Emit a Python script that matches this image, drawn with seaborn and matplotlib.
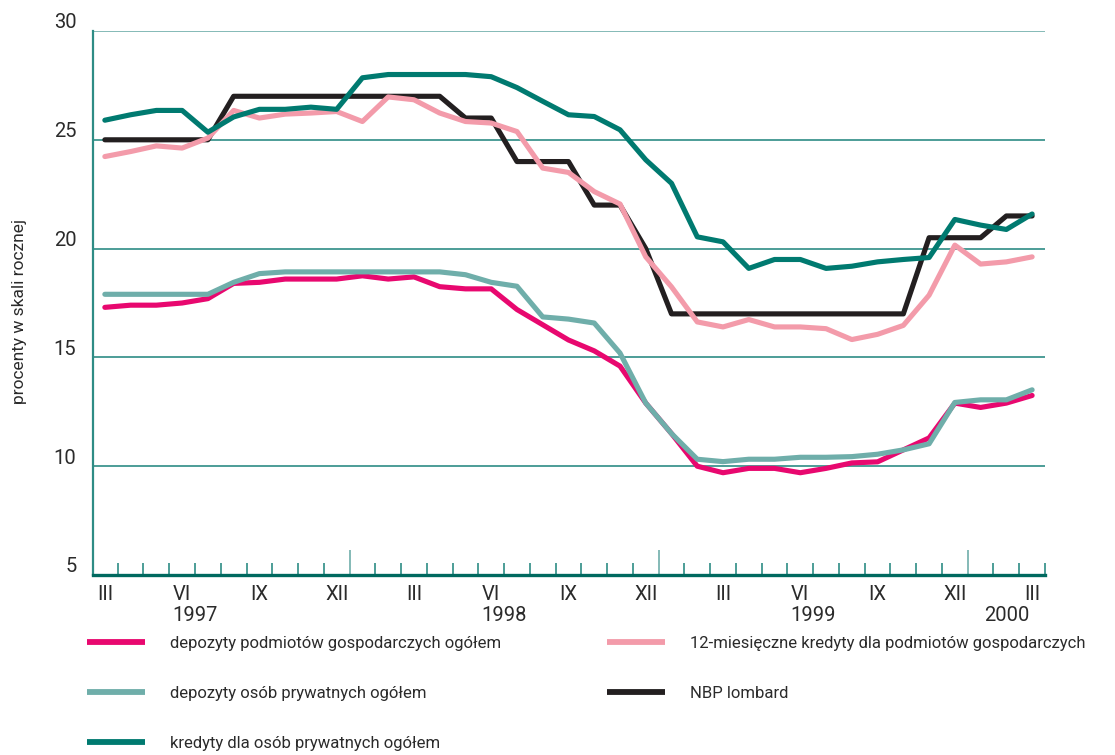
import numpy as np
import pandas as pd
import matplotlib
matplotlib.use("Agg")
import matplotlib.pyplot as plt
import matplotlib.transforms as mtransforms
from matplotlib.lines import Line2D
import seaborn as sns

# monthly data, III 1997 - III 2000
dep_firmy = [17.3, 17.4, 17.4, 17.5, 17.7, 18.4, 18.45, 18.6, 18.6, 18.6, 18.75, 18.6, 18.7,
             18.25, 18.15, 18.15, 17.2, 16.5, 15.8, 15.3, 14.6, 12.9, 11.5, 10.0, 9.7, 9.9,
             9.9, 9.7, 9.9, 10.15, 10.2, 10.75, 11.3, 12.9, 12.7, 12.9, 13.25]
dep_prywatne = [17.9, 17.9, 17.9, 17.9, 17.9, 18.45, 18.85, 18.93, 18.93, 18.93, 18.93, 18.93,
                18.93, 18.93, 18.8, 18.45, 18.27, 16.86, 16.76, 16.58, 15.2, 12.9, 11.5, 10.32,
                10.21, 10.32, 10.32, 10.41, 10.41, 10.44, 10.55, 10.75, 11.03, 12.93, 13.05,
                13.05, 13.51]
kredyty_prywatne = [25.9, 26.15, 26.35, 26.35, 25.35, 26.05, 26.4, 26.4, 26.5, 26.4, 27.85, 28.0,
                    28.0, 28.0, 28.0, 27.9, 27.4, 26.77, 26.15, 26.07, 25.46, 24.08, 23.0, 20.54,
                    20.31, 19.09, 19.5, 19.5, 19.09, 19.19, 19.39, 19.5, 19.59, 21.34, 21.08,
                    20.88, 21.59]
kredyty_12m = [24.23, 24.46, 24.72, 24.62, 25.08, 26.35, 26.0, 26.18, 26.23, 26.3, 25.84, 26.97,
               26.84, 26.23, 25.84, 25.77, 25.38, 23.7, 23.5, 22.62, 22.05, 19.62, 18.24, 16.63,
               16.4, 16.74, 16.4, 16.4, 16.32, 15.82, 16.06, 16.47, 17.86, 20.16, 19.29, 19.39,
               19.62]
lombard = [25, 25, 25, 25, 25, 27, 27, 27, 27, 27, 27, 27, 27, 27, 26, 26, 24, 24, 24, 22, 22,
           20, 17, 17, 17, 17, 17, 17, 17, 17, 17, 17, 20.5, 20.5, 20.5, 21.5, 21.5]

quarter_labels = ['III', 'VI', 'IX', 'XII', 'III', 'VI', 'IX', 'XII',
                  'III', 'VI', 'IX', 'XII', 'III']
year_labels = ['1997', '1998', '1999', '2000']
year_pos = [3.5, 15.5, 27.5, 35]

labels = ['depozyty podmiotów gospodarczych ogółem',
          'depozyty osób prywatnych ogółem',
          'kredyty dla osób prywatnych ogółem',
          '12-miesięczne kredyty dla podmiotów gospodarczych',
          'NBP lombard']
colors = ['#E8086F', '#6FAEAA', '#007A70', '#F39BAA', '#231F20']
series = [dep_firmy, dep_prywatne, kredyty_prywatne, kredyty_12m, lombard]
zorders = [3, 4, 7, 6, 5]

sns.set_theme(style='white')
plt.rcParams['font.family'] = ['Roboto', 'DejaVu Sans']
text_col = '#2B2B2B'
grid_col = '#2E8C85'

fig = plt.figure(figsize=(11.15, 7.55), dpi=100)
ax = fig.add_axes([93 / 1115, 1 - 575 / 755, (1045 - 93) / 1115, (575 - 31) / 755])

months = np.arange(len(dep_firmy))
for vals, col, z in zip(series, colors, zorders):
    df = pd.DataFrame({'m': months, 'v': vals})
    sns.lineplot(data=df, x='m', y='v', color=col, linewidth=3.7, ax=ax,
                 zorder=z, solid_capstyle='round')

ax.set_xlim(-0.46, 36.46)
ax.set_ylim(5, 30)
ax.set_xlabel('')
ax.set_ylabel('procenty w skali rocznej', fontsize=12.5, color=text_col)
ax.yaxis.set_label_coords(-0.069, 0.485)

# horizontal grid
for yv in [10, 15, 20, 25, 30]:
    ax.axhline(yv, color=grid_col if yv < 30 else '#6FAEAA', lw=1.2, zorder=1)

for s in ['top', 'right']:
    ax.spines[s].set_visible(False)
ax.spines['left'].set_color(grid_col)
ax.spines['left'].set_linewidth(1.6)
ax.spines['bottom'].set_color('#00695F')
ax.spines['bottom'].set_linewidth(2.4)

# y ticks
ax.set_yticks([5, 10, 15, 20, 25, 30])
ax.set_yticklabels(['5', '10', '15', '20', '25', '30'])
ax.tick_params(axis='y', length=0, pad=12, labelsize=14.5, labelcolor=text_col)
offset = mtransforms.ScaledTranslation(0, 10 / 100, fig.dpi_scale_trans)
for lab in ax.get_yticklabels():
    lab.set_transform(lab.get_transform() + offset)

# x ticks: month boundaries, long at year boundaries
bounds = np.arange(0.5, 37, 1.0)
year_bounds = [9.5, 21.5, 33.5]
ax.set_xticks(year_bounds)
ax.set_xticklabels([])
ax.set_xticks([b for b in bounds if b not in year_bounds], minor=True)
ax.tick_params(axis='x', which='major', direction='in', length=18, width=1.2,
               color='#6FAEAA', bottom=True)
ax.tick_params(axis='x', which='minor', direction='in', length=8.5, width=1.2,
               color=grid_col, bottom=True)

sec = ax.secondary_xaxis('bottom')
sec.set_xticks(np.arange(0, 37, 3))
sec.set_xticklabels(quarter_labels)
sec.tick_params(length=0, pad=7, labelsize=14.5, labelcolor=text_col)
sec.spines['bottom'].set_visible(False)

sec2 = ax.secondary_xaxis('bottom')
sec2.set_xticks(year_pos)
sec2.set_xticklabels(year_labels)
sec2.tick_params(length=0, pad=22, labelsize=14.5, labelcolor=text_col)
sec2.spines['bottom'].set_visible(False)

# legend in two columns
handles = [Line2D([], [], color=c, lw=4.2, solid_capstyle='butt') for c in colors]
leg_kw = dict(loc='upper left', frameon=False, fontsize=12, handlelength=3.5,
              handletextpad=1.5, labelspacing=2.1, labelcolor=text_col,
              borderpad=0, borderaxespad=0)
fig.legend(handles[:3], labels[:3], bbox_to_anchor=(87 / 1115, 1 - 636 / 755), **leg_kw)
fig.legend(handles[3:], labels[3:], bbox_to_anchor=(607 / 1115, 1 - 636 / 755), **leg_kw)

fig.savefig('out.png', dpi=100)
